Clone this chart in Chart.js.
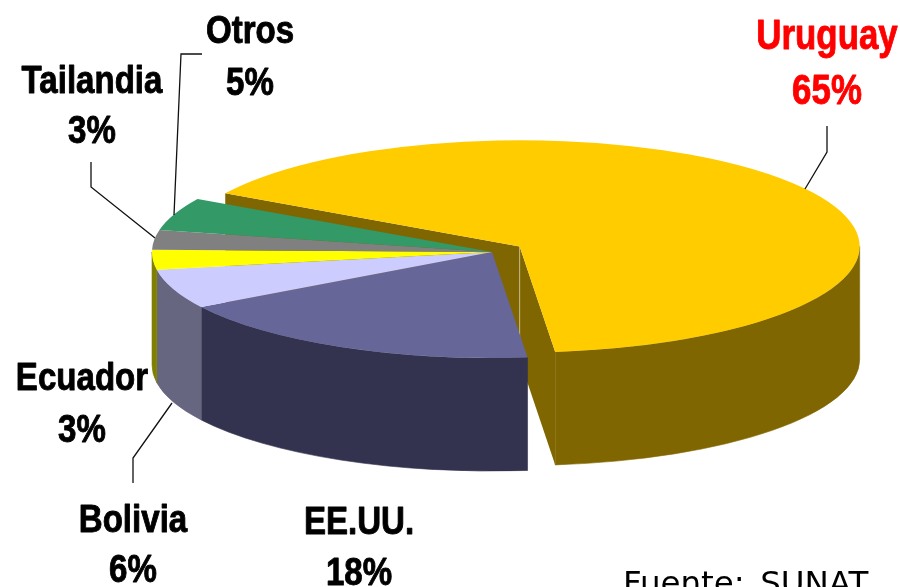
<!DOCTYPE html>
<html>
<head>
<meta charset="utf-8">
<style>
  html, body { margin: 0; padding: 0; background: #fff; overflow: hidden; }
  canvas { display: block; }
</style>
</head>
<body>
<canvas id="grafico" width="900" height="587"></canvas>
<script src="https://cdn.jsdelivr.net/npm/chart.js@4/dist/chart.umd.js"></script>
<script>
const paises = ["Uruguay", "EE.UU.", "Bolivia", "Ecuador", "Tailandia", "Otros"];
const porcentajes = [65, 18, 6, 3, 3, 5];
const colores = ["#FFCC00", "#666699", "#CCCCFF", "#FFFF00", "#808080", "#339966"];
const coloresPared = ["#806600", "#33334F", "#666680", "#808000", "#404040", "#1A4D33"];
const separacion = [33, 0, 0, 0, 0, 0];

// Perspectiva de la torta
const centroX = 492;
const centroY = 252;
const aplastado = 0.312;
const profundidad = 113;

// Rótulos: centro x, línea base de nombre y de porcentaje
const rotulos = [
    { x: 827, y1: 49, y2: 104, size: 42, ancho: 0.83, color: "#FF0000" },
    { x: 359, y1: 534, y2: 585, size: 38, ancho: 0.87, color: "#000000" },
    { x: 133, y1: 532, y2: 582, size: 38, ancho: 0.87, color: "#000000" },
    { x: 82, y1: 390, y2: 442, size: 38, ancho: 0.87, color: "#000000" },
    { x: 92, y1: 93, y2: 143, size: 38, ancho: 0.87, color: "#000000" },
    { x: 250, y1: 43, y2: 95, size: 38, ancho: 0.87, color: "#000000" }
];

const guias = [
    [[827, 126], [827, 152], [805, 189]],
    [[133, 483], [133, 458], [172, 403]],
    [[91, 162], [91, 187], [155, 238]],
    [[202, 54], [181, 54], [174, 215]]
];

// Centro de cada porción en pantalla, ya con su separación
const centroPorcion = (arc, i) => {
    const medio = (arc.startAngle + arc.endAngle) / 2;
    return {
        x: centroX + Math.cos(medio) * separacion[i],
        y: centroY + Math.sin(medio) * separacion[i] * aplastado
    };
};

const caraRadial = (ctx, c, arc, angulo) => {
    const bordeX = c.x + Math.cos(angulo) * arc.outerRadius;
    const bordeY = c.y + Math.sin(angulo) * arc.outerRadius * aplastado;
    ctx.beginPath();
    ctx.moveTo(c.x, c.y);
    ctx.lineTo(bordeX, bordeY);
    ctx.lineTo(bordeX, bordeY + profundidad);
    ctx.lineTo(c.x, c.y + profundidad);
    ctx.closePath();
    ctx.fill();
};

const pared = (ctx, c, arc) => {
    const a0 = Math.max(arc.startAngle, 0);
    const a1 = Math.min(arc.endAngle, Math.PI);
    if (a1 <= a0) return;
    const rx = arc.outerRadius;
    const ry = arc.outerRadius * aplastado;
    ctx.beginPath();
    ctx.ellipse(c.x, c.y, rx, ry, 0, a0, a1);
    ctx.ellipse(c.x, c.y + profundidad, rx, ry, 0, a1, a0, true);
    ctx.closePath();
    ctx.fill();
    ctx.stroke();
};

const torta3d = {
    id: "torta3d",
    // la opción offset de Chart.js agranda el arco, por eso se mueve el elemento
    afterDatasetsUpdate(chart) {
        chart.getDatasetMeta(0).data.forEach((arc, i) => {
            const medio = (arc.startAngle + arc.endAngle) / 2;
            arc.x += Math.cos(medio) * separacion[i];
            arc.y += Math.sin(medio) * separacion[i];
        });
    },
    beforeDatasetsDraw(chart) {
        const ctx = chart.ctx;
        const arcos = chart.getDatasetMeta(0).data;

        ctx.save();
        ctx.lineWidth = 0.6;
        arcos.forEach((arc, i) => {
            const c = centroPorcion(arc, i);
            ctx.fillStyle = coloresPared[i];
            ctx.strokeStyle = coloresPared[i];
            // solo la porción separada deja ver sus caras de corte
            if (separacion[i] > 0) {
                caraRadial(ctx, c, arc, arc.startAngle);
                caraRadial(ctx, c, arc, arc.endAngle);
            }
            pared(ctx, c, arc);
        });
        const c0 = centroPorcion(arcos[0], 0);
        ctx.strokeStyle = "rgba(215, 205, 170, 0.7)";
        ctx.lineWidth = 1;
        ctx.beginPath();
        ctx.moveTo(c0.x, c0.y);
        ctx.lineTo(c0.x, c0.y + profundidad - 20);
        ctx.stroke();
        ctx.restore();

        // las tapas las dibuja Chart.js, aplastadas
        ctx.save();
        ctx.translate(centroX, centroY);
        ctx.scale(1, aplastado);
        ctx.translate(-arcos[1].x, -arcos[1].y);
    },
    afterDatasetsDraw(chart) {
        const ctx = chart.ctx;
        ctx.restore();

        ctx.save();
        ctx.strokeStyle = "#111111";
        ctx.lineWidth = 1.3;
        guias.forEach(puntos => {
            ctx.beginPath();
            puntos.forEach((p, i) => i ? ctx.lineTo(p[0], p[1]) : ctx.moveTo(p[0], p[1]));
            ctx.stroke();
        });

        ctx.textAlign = "center";
        ctx.textBaseline = "alphabetic";
        ctx.lineJoin = "round";
        const escribir = (texto, r, y) => {
            ctx.save();
            ctx.translate(r.x, y);
            ctx.scale(r.ancho, 1);
            ctx.font = `bold ${r.size}px "Liberation Sans", Arial, sans-serif`;
            ctx.fillStyle = r.color;
            ctx.strokeStyle = r.color;
            ctx.lineWidth = 0.9;
            ctx.fillText(texto, 0, 0);
            ctx.strokeText(texto, 0, 0);
            ctx.restore();
        };
        paises.forEach((pais, i) => {
            escribir(pais, rotulos[i], rotulos[i].y1);
            escribir(`${porcentajes[i]}%`, rotulos[i], rotulos[i].y2);
        });

        ctx.textAlign = "left";
        ctx.font = '32.5px "DejaVu Sans", sans-serif';
        ctx.wordSpacing = "5px";
        ctx.fillStyle = "#000000";
        ctx.fillText("Fuente: SUNAT", 623, 594);
        ctx.restore();
    }
};

new Chart(document.getElementById("grafico"), {
    type: "pie",
    data: {
        labels: paises,
        datasets: [{
            data: porcentajes,
            backgroundColor: colores,
            borderWidth: 0,
            clip: false
        }]
    },
    options: {
        responsive: false,
        animation: false,
        events: [],
        rotation: -60,
        radius: 340,
        plugins: {
            legend: { display: false },
            tooltip: { enabled: false }
        }
    },
    plugins: [torta3d]
});
</script>
</body>
</html>
